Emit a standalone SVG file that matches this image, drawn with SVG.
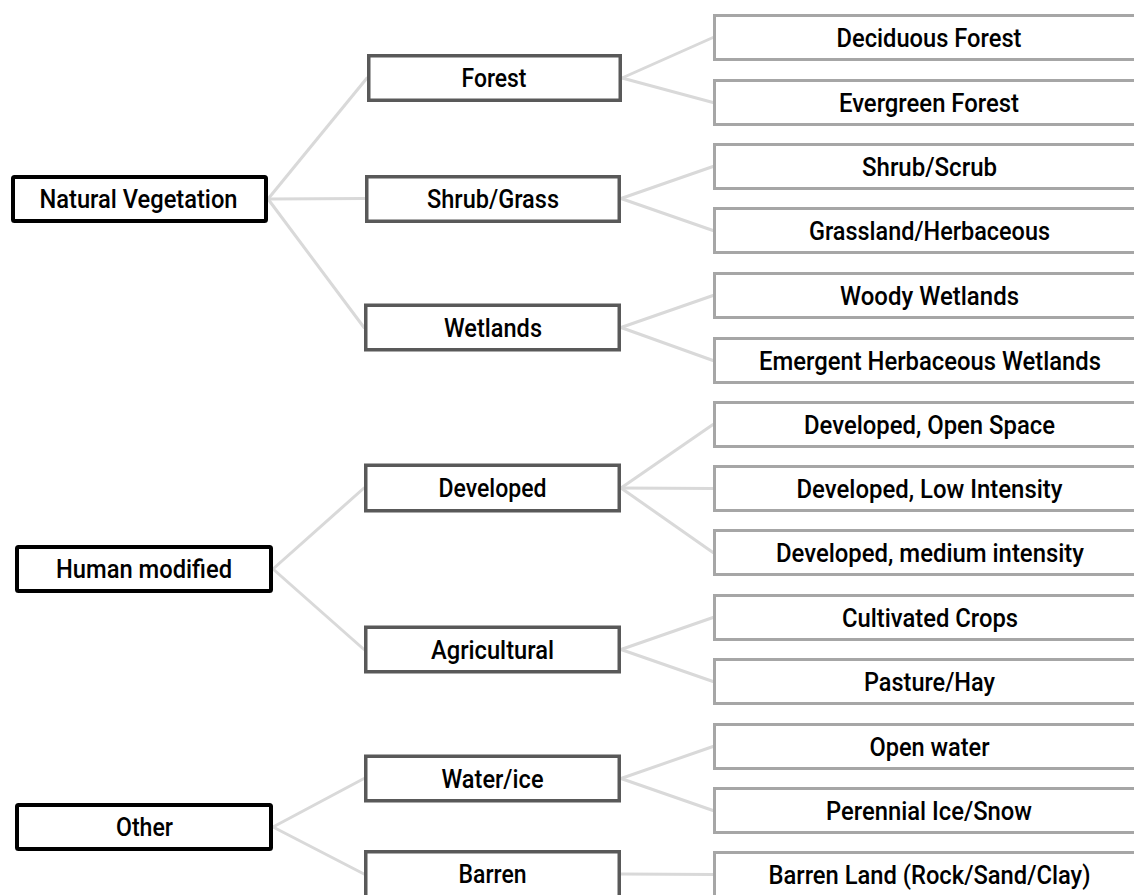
<svg xmlns="http://www.w3.org/2000/svg" width="1134" height="895" viewBox="0 0 1134 895">
  <style>
    .bg { fill: #ffffff; }
    .link { stroke: #d9d9d9; stroke-width: 3; fill: none; stroke-linecap: round; }
    .root { fill: #ffffff; stroke: #000000; stroke-width: 4; }
    .mid { fill: #ffffff; stroke: #595959; stroke-width: 3.5; }
    .leaf { fill: #ffffff; stroke: #a6a6a6; stroke-width: 3; }
    text { font-family: Roboto, "Liberation Sans", sans-serif; font-size: 26px; font-weight: 500; fill: #000000; text-anchor: middle; }
  </style>
  <rect class="bg" x="0" y="0" width="1134" height="895"/>

  <!-- connectors -->
  <g id="connectors">
    <line class="link" x1="268" y1="199" x2="367" y2="78"/>
    <line class="link" x1="268" y1="199" x2="365" y2="198.5"/>
    <line class="link" x1="268" y1="199" x2="364" y2="327.5"/>
    <line class="link" x1="273" y1="569" x2="364" y2="488"/>
    <line class="link" x1="273" y1="569" x2="364" y2="649.5"/>
    <line class="link" x1="273" y1="827" x2="364" y2="778.5"/>
    <line class="link" x1="273" y1="827" x2="364" y2="874"/>

    <line class="link" x1="622" y1="78" x2="713" y2="37.5"/>
    <line class="link" x1="622" y1="78" x2="713" y2="102.5"/>
    <line class="link" x1="621" y1="198.5" x2="713" y2="166.5"/>
    <line class="link" x1="621" y1="198.5" x2="713" y2="230.5"/>
    <line class="link" x1="621" y1="327.5" x2="713" y2="295.5"/>
    <line class="link" x1="621" y1="327.5" x2="713" y2="360.5"/>
    <line class="link" x1="621" y1="488" x2="713" y2="424.5"/>
    <line class="link" x1="621" y1="488" x2="713" y2="488.5"/>
    <line class="link" x1="621" y1="488" x2="713" y2="552.5"/>
    <line class="link" x1="621" y1="649.5" x2="713" y2="617.5"/>
    <line class="link" x1="621" y1="649.5" x2="713" y2="681.5"/>
    <line class="link" x1="621" y1="778.5" x2="713" y2="746.5"/>
    <line class="link" x1="621" y1="778.5" x2="713" y2="810.5"/>
    <line class="link" x1="621" y1="874" x2="713" y2="874.5"/>
  </g>

  <!-- top level -->
  <g id="natural-vegetation">
    <rect class="root" x="13" y="177" width="253" height="44" rx="1.5"/>
    <text x="138.5" y="208" textLength="198" lengthAdjust="spacingAndGlyphs">Natural Vegetation</text>
  </g>
  <g id="human-modified">
    <rect class="root" x="17" y="547" width="254" height="44" rx="1.5"/>
    <text x="144" y="578" textLength="176" lengthAdjust="spacingAndGlyphs">Human modified</text>
  </g>
  <g id="other">
    <rect class="root" x="17" y="805" width="254" height="44" rx="1.5"/>
    <text x="144.5" y="836" textLength="57" lengthAdjust="spacingAndGlyphs">Other</text>
  </g>

  <!-- second level -->
  <g id="forest">
    <rect class="mid" x="368.75" y="55.75" width="251.5" height="44.5"/>
    <text x="494" y="87" textLength="65" lengthAdjust="spacingAndGlyphs">Forest</text>
  </g>
  <g id="shrub-grass">
    <rect class="mid" x="366.75" y="176.75" width="252.5" height="44.5"/>
    <text x="493" y="207.5" textLength="132" lengthAdjust="spacingAndGlyphs">Shrub/Grass</text>
  </g>
  <g id="wetlands">
    <rect class="mid" x="365.75" y="305.25" width="253.5" height="44.5"/>
    <text x="493" y="336.5" textLength="98" lengthAdjust="spacingAndGlyphs">Wetlands</text>
  </g>
  <g id="developed">
    <rect class="mid" x="365.75" y="465.25" width="253.5" height="45.5"/>
    <text x="492.5" y="497" textLength="108" lengthAdjust="spacingAndGlyphs">Developed</text>
  </g>
  <g id="agricultural">
    <rect class="mid" x="365.75" y="627.25" width="253.5" height="44.5"/>
    <text x="492.5" y="658.5" textLength="123" lengthAdjust="spacingAndGlyphs">Agricultural</text>
  </g>
  <g id="water-ice">
    <rect class="mid" x="365.75" y="756.25" width="253.5" height="44.5"/>
    <text x="492.5" y="787.5" textLength="102" lengthAdjust="spacingAndGlyphs">Water/ice</text>
  </g>
  <g id="barren">
    <rect class="mid" x="365.75" y="851.75" width="253.5" height="50"/>
    <text x="492.5" y="883" textLength="68" lengthAdjust="spacingAndGlyphs">Barren</text>
  </g>

  <!-- third level -->
  <g id="deciduous-forest">
    <rect class="leaf" x="714.5" y="15.5" width="440" height="44"/>
    <text x="929" y="46.5" textLength="185" lengthAdjust="spacingAndGlyphs">Deciduous Forest</text>
  </g>
  <g id="evergreen-forest">
    <rect class="leaf" x="714.5" y="80.5" width="440" height="44"/>
    <text x="929" y="111.5" textLength="180" lengthAdjust="spacingAndGlyphs">Evergreen Forest</text>
  </g>
  <g id="shrub-scrub">
    <rect class="leaf" x="714.5" y="144.5" width="440" height="44"/>
    <text x="929.5" y="175.5" textLength="135" lengthAdjust="spacingAndGlyphs">Shrub/Scrub</text>
  </g>
  <g id="grassland-herbaceous">
    <rect class="leaf" x="714.5" y="208.5" width="440" height="44"/>
    <text x="929.5" y="239.5" textLength="241" lengthAdjust="spacingAndGlyphs">Grassland/Herbaceous</text>
  </g>
  <g id="woody-wetlands">
    <rect class="leaf" x="714.5" y="273.5" width="440" height="44"/>
    <text x="929.5" y="304.5" textLength="179" lengthAdjust="spacingAndGlyphs">Woody Wetlands</text>
  </g>
  <g id="emergent-herbaceous-wetlands">
    <rect class="leaf" x="714.5" y="338.5" width="440" height="44"/>
    <text x="930" y="369.5" textLength="342" lengthAdjust="spacingAndGlyphs">Emergent Herbaceous Wetlands</text>
  </g>
  <g id="developed-open-space">
    <rect class="leaf" x="714.5" y="402.5" width="440" height="44"/>
    <text x="929.5" y="433.5" textLength="251" lengthAdjust="spacingAndGlyphs">Developed, Open Space</text>
  </g>
  <g id="developed-low-intensity">
    <rect class="leaf" x="714.5" y="466.5" width="440" height="44"/>
    <text x="929.5" y="497.5" textLength="266" lengthAdjust="spacingAndGlyphs">Developed, Low Intensity</text>
  </g>
  <g id="developed-medium-intensity">
    <rect class="leaf" x="714.5" y="530.5" width="440" height="44"/>
    <text x="930" y="561.5" textLength="308" lengthAdjust="spacingAndGlyphs">Developed, medium intensity</text>
  </g>
  <g id="cultivated-crops">
    <rect class="leaf" x="714.5" y="595.5" width="440" height="44"/>
    <text x="930" y="626.5" textLength="176" lengthAdjust="spacingAndGlyphs">Cultivated Crops</text>
  </g>
  <g id="pasture-hay">
    <rect class="leaf" x="714.5" y="659.5" width="440" height="44"/>
    <text x="929.5" y="690.5" textLength="131" lengthAdjust="spacingAndGlyphs">Pasture/Hay</text>
  </g>
  <g id="open-water">
    <rect class="leaf" x="714.5" y="724.5" width="440" height="44"/>
    <text x="929.5" y="755.5" textLength="120" lengthAdjust="spacingAndGlyphs">Open water</text>
  </g>
  <g id="perennial-ice-snow">
    <rect class="leaf" x="714.5" y="788.5" width="440" height="44"/>
    <text x="929" y="819.5" textLength="206" lengthAdjust="spacingAndGlyphs">Perennial Ice/Snow</text>
  </g>
  <g id="barren-land">
    <rect class="leaf" x="714.5" y="852.5" width="440" height="50"/>
    <text x="929.5" y="883.5" textLength="322" lengthAdjust="spacingAndGlyphs">Barren Land (Rock/Sand/Clay)</text>
  </g>
</svg>
